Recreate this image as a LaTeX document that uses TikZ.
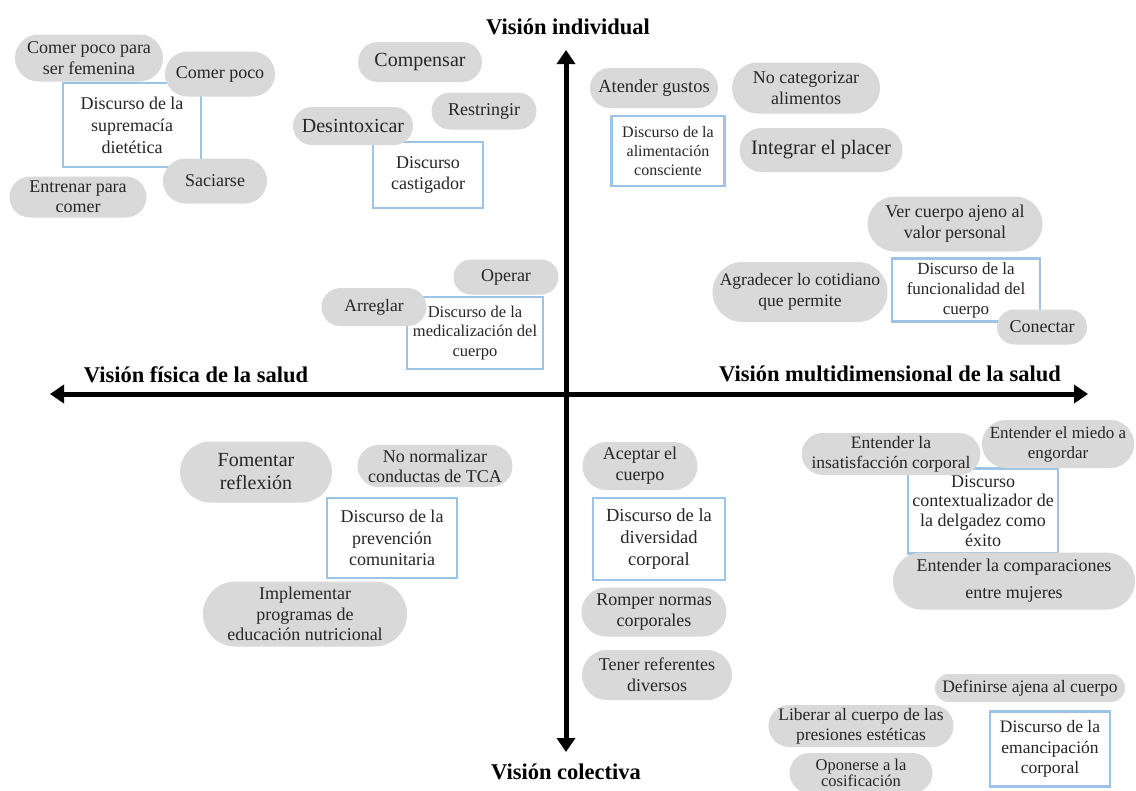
\documentclass[tikz,border=0pt]{standalone}
\usepackage{fontspec}
\setmainfont{Liberation Serif}
\usetikzlibrary{shapes.misc,arrows.meta}
\definecolor{pillgray}{HTML}{D9D9D9}
\definecolor{boxblue}{HTML}{9DC3E6}
\definecolor{txt}{HTML}{262626}
\newcommand\fpxl[2]{\fontsize{\fpeval{#2*0.75}}{\fpeval{#2*0.75*#1}}\selectfont}
\newcommand\fpx[1]{\fpxl{1.18}{#1}}
\tikzset{
  pill/.style={rounded rectangle, fill=pillgray, inner sep=0pt, align=center, text=txt},
  disc/.style={rectangle, draw=boxblue, line width=1.9pt, fill=white, inner sep=0pt, align=center, text=txt},
  sz/.style 2 args={minimum width=#1*0.75pt, minimum height=#2*0.75pt},
  axis/.style={line width=3.75pt, black, {Triangle[length=10.5pt,width=13.5pt]}-{Triangle[length=10.5pt,width=13.5pt]}},
  axlabel/.style={font=\bfseries\fpx{22.5}, text=black, inner sep=0pt}
}
\begin{document}
\begin{tikzpicture}[x=0.75pt,y=-0.75pt]
\useasboundingbox[fill=white] (0,0) rectangle (1136,790);
% axes
\coordinate (vt) at (566,50);
\coordinate (vb) at (566,752);
\coordinate (hl) at (50,394);
\coordinate (hr) at (1088,394);
\draw[axis] (vb) -- (vt);
\draw[axis] (hl) -- (hr);
\node[axlabel] (lt) at (568,27) {Visión individual};
\node[axlabel] (lb) at (566,772) {Visión colectiva};
\node[axlabel] (ll) at (196,375) {Visión física de la salud};
\node[axlabel] (lr) at (890,374) {Visión multidimensional de la salud};
% discourse boxes
\node[disc, sz={138}{84}, font=\fpxl{1.22}{18}] (b1) at (132,125) {Discurso de la\\supremacía\\dietética};
\node[disc, sz={110}{66}, font=\fpx{18}] (b2) at (428,175) {Discurso\\castigador};
\node[disc, sz={113}{70}, font=\fpx{16}] (b3) at (668,151) {Discurso de la\\alimentación\\consciente};
\node[disc, sz={148}{63}, font=\fpx{17}] (b4) at (966,290) {Discurso de la\\funcionalidad del\\cuerpo};
\node[disc, sz={136}{72}, font=\fpx{16.5}] (b5) at (475,333) {Discurso de la\\medicalización del\\cuerpo};
\node[disc, sz={130}{80}, font=\fpx{18}] (b6) at (392,538) {Discurso de la\\prevención\\comunitaria};
\node[disc, sz={132}{82}, font=\fpx{18.5}] (b7) at (659,539) {Discurso de la\\diversidad\\corporal};
\node[disc, sz={150}{85}, font=\fpxl{1.1}{18}] (b8) at (983,511) {Discurso\\contextualizador de\\la delgadez como\\éxito};
\node[disc, sz={120}{75}, font=\fpx{17.5}] (b9) at (1050,749) {Discurso de la\\emancipación\\corporal};
% pills
\node[pill, sz={148}{47}, font=\fpx{18}] (p1) at (89,58) {Comer poco para\\ser femenina};
\node[pill, sz={110}{45}, font=\fpx{18}] (p2) at (220,74) {Comer poco};
\node[pill, sz={104}{45}, font=\fpx{18}] (p3) at (215,181) {Saciarse};
\node[pill, sz={137}{41}, font=\fpxl{1.1}{18}] (p4) at (78,197) {Entrenar para\\comer};
\node[pill, sz={124}{40}, font=\fpx{20}] (p5) at (420,62) {Compensar};
\node[pill, sz={105}{37}, font=\fpx{18}] (p6) at (484,111) {Restringir};
\node[pill, sz={120}{38}, font=\fpx{20}] (p7) at (353,126) {Desintoxicar};
\node[pill, sz={128}{40}, font=\fpx{18.5}] (p8) at (654,88) {Atender gustos};
\node[pill, sz={148}{51}, font=\fpx{18}] (p9) at (806,88) {No categorizar\\alimentos};
\node[pill, sz={163}{44}, font=\fpx{20.5}] (p10) at (821,150) {Integrar el placer};
\node[pill, sz={175}{55}, font=\fpx{18}] (p11) at (955,224) {Ver cuerpo ajeno al\\valor personal};
\node[pill, sz={175}{60}, font=\fpx{17.5}] (p12) at (800,292) {Agradecer lo cotidiano\\que permite};
\node[pill, sz={90}{35}, font=\fpx{18}] (p13) at (1042,327) {Conectar};
\node[pill, sz={105}{35}, font=\fpx{18}] (p14) at (506,277) {Operar};
\node[pill, sz={105}{38}, font=\fpx{17.5}] (p15) at (374,307) {Arreglar};
\node[pill, sz={152}{61}, font=\fpxl{1.15}{20}] (p16) at (256,472) {Fomentar\\reflexión};
\node[pill, sz={155}{42}, font=\fpxl{1.1}{18}] (p17) at (435,466) {No normalizar\\conductas de TCA};
\node[pill, sz={204}{65}, font=\fpxl{1.15}{18}] (p18) at (305,614) {Implementar\\programas de\\educación nutricional};
\node[pill, sz={115}{48}, font=\fpx{18}] (p19) at (640,466) {Aceptar el\\cuerpo};
\node[pill, sz={145}{49}, font=\fpx{18}] (p20) at (654,612) {Romper normas\\corporales};
\node[pill, sz={150}{50}, font=\fpx{18}] (p21) at (657,675) {Tener referentes\\diversos};
\node[pill, sz={162}{42}, font=\fpxl{1.12}{17.5}] (p22) at (891,454) {Entender la\\insatisfacción corporal};
\node[pill, sz={150}{48}, font=\fpx{17}] (p23) at (1058,444) {Entender el miedo a\\engordar};
\node[pill, sz={242}{57}, font=\fpxl{1.5}{18}] (p24) at (1014,581) {Entender la comparaciones\\entre mujeres};
\node[pill, sz={190}{28}, font=\fpx{17.5}] (p25) at (1030,688) {Definirse ajena al cuerpo};
\node[pill, sz={185}{42}, font=\fpxl{1.12}{17.5}] (p26) at (861,726) {Liberar al cuerpo de las\\presiones estéticas};
\node[pill, sz={143}{40}, font=\fpxl{1.0}{16.5}] (p27) at (861,773) {Oponerse a la\\cosificación};
\end{tikzpicture}
\end{document}
